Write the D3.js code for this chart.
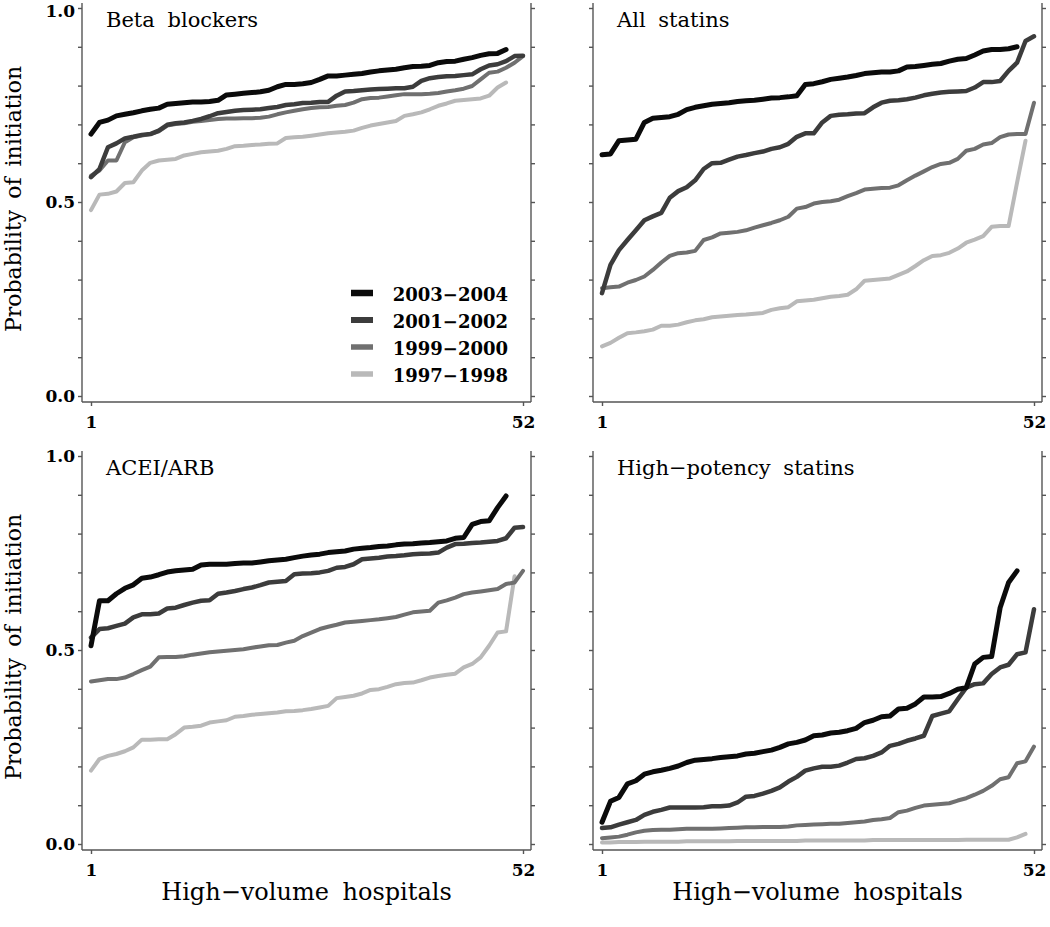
<!DOCTYPE html>
<html><head><meta charset="utf-8">
<script src="https://cdn.jsdelivr.net/npm/d3@7"></script>
<style>body{margin:0;background:#fff} svg{display:block}</style>
</head><body><svg id="chart" width="1050" height="927"></svg>
<script>
// ---------- DATA ----------
const periods = ["2003−2004", "2001−2002", "1999−2000", "1997−1998"];
const panelTitles = ["Beta blockers", "All statins", "ACEI/ARB", "High−potency statins"];
const xTickValues = [1, 52];
const yTickValues = [0, 0.1, 0.2, 0.3, 0.4, 0.5, 0.6, 0.7, 0.8, 0.9, 1.0];
const yLabelValues = [0, 0.5, 1.0];
const yAxisTitle = "Probability of initiation";
const xAxisTitle = "High−volume hospitals";

// Beta blockers
const bb_0304 = [0.675,0.705,0.711,0.722,0.726,0.730,0.735,0.739,0.742,0.752,0.754,0.756,0.758,0.758,0.759,0.762,0.776,0.778,0.780,0.782,0.784,0.788,0.797,0.803,0.803,0.805,0.808,0.816,0.825,0.825,0.827,0.829,0.831,0.835,0.838,0.840,0.842,0.846,0.849,0.850,0.852,0.859,0.862,0.863,0.868,0.872,0.878,0.882,0.883,0.893];
const bb_0102 = [0.564,0.585,0.641,0.651,0.664,0.668,0.673,0.675,0.684,0.699,0.703,0.705,0.709,0.714,0.721,0.729,0.732,0.735,0.737,0.738,0.739,0.742,0.745,0.750,0.752,0.755,0.756,0.758,0.758,0.774,0.785,0.786,0.788,0.790,0.791,0.792,0.793,0.793,0.797,0.812,0.819,0.822,0.824,0.825,0.827,0.829,0.842,0.852,0.855,0.863,0.876,0.877];
const bb_9900 = [0.568,0.581,0.607,0.607,0.654,0.667,0.671,0.675,0.682,0.697,0.701,0.703,0.707,0.709,0.711,0.714,0.715,0.715,0.716,0.716,0.717,0.720,0.726,0.731,0.735,0.739,0.742,0.744,0.745,0.748,0.750,0.756,0.765,0.768,0.769,0.772,0.775,0.778,0.778,0.778,0.779,0.781,0.785,0.788,0.792,0.799,0.816,0.833,0.836,0.846,0.859,0.876];
const bb_9798 = [0.479,0.519,0.521,0.527,0.549,0.551,0.581,0.601,0.607,0.609,0.611,0.620,0.624,0.628,0.630,0.632,0.637,0.644,0.645,0.647,0.648,0.650,0.651,0.665,0.667,0.668,0.671,0.674,0.677,0.679,0.681,0.684,0.691,0.697,0.701,0.705,0.709,0.722,0.726,0.731,0.739,0.748,0.754,0.761,0.763,0.765,0.767,0.774,0.795,0.808];

// All statins
const as_0304 = [0.622,0.624,0.658,0.660,0.662,0.705,0.716,0.718,0.720,0.726,0.738,0.744,0.748,0.752,0.754,0.756,0.759,0.761,0.762,0.765,0.768,0.769,0.771,0.774,0.803,0.805,0.810,0.816,0.819,0.822,0.826,0.831,0.833,0.835,0.835,0.838,0.848,0.849,0.852,0.855,0.857,0.863,0.868,0.870,0.879,0.889,0.893,0.893,0.895,0.900];
const as_0102 = [0.265,0.338,0.376,0.402,0.427,0.453,0.463,0.472,0.511,0.528,0.538,0.556,0.585,0.600,0.601,0.609,0.617,0.621,0.626,0.630,0.637,0.641,0.650,0.668,0.677,0.677,0.705,0.722,0.725,0.726,0.728,0.729,0.744,0.756,0.761,0.762,0.765,0.769,0.775,0.779,0.782,0.784,0.785,0.786,0.795,0.809,0.809,0.812,0.838,0.859,0.915,0.927];
const as_9900 = [0.278,0.280,0.282,0.292,0.299,0.308,0.325,0.344,0.361,0.368,0.370,0.374,0.402,0.409,0.419,0.421,0.423,0.427,0.434,0.440,0.446,0.453,0.462,0.483,0.487,0.496,0.500,0.502,0.506,0.515,0.523,0.532,0.534,0.536,0.537,0.543,0.556,0.568,0.579,0.590,0.598,0.601,0.611,0.632,0.637,0.648,0.652,0.667,0.674,0.675,0.675,0.756];
const as_9798 = [0.128,0.137,0.150,0.162,0.164,0.167,0.171,0.181,0.181,0.184,0.190,0.195,0.198,0.203,0.205,0.207,0.209,0.210,0.212,0.214,0.222,0.226,0.229,0.244,0.246,0.248,0.252,0.256,0.258,0.261,0.275,0.297,0.299,0.301,0.303,0.312,0.321,0.335,0.350,0.361,0.363,0.369,0.380,0.395,0.403,0.412,0.436,0.438,0.438,0.550,0.658];

// ACEI/ARB
const ac_0304 = [0.511,0.627,0.627,0.645,0.659,0.668,0.685,0.688,0.694,0.701,0.704,0.706,0.708,0.719,0.721,0.721,0.721,0.723,0.724,0.724,0.727,0.730,0.732,0.734,0.738,0.742,0.745,0.747,0.751,0.753,0.755,0.760,0.762,0.764,0.767,0.768,0.771,0.773,0.774,0.776,0.777,0.779,0.781,0.788,0.790,0.824,0.831,0.833,0.867,0.897];
const ac_0102 = [0.532,0.554,0.556,0.562,0.568,0.584,0.592,0.592,0.594,0.607,0.609,0.616,0.622,0.627,0.628,0.645,0.648,0.652,0.657,0.661,0.667,0.674,0.676,0.678,0.695,0.697,0.698,0.700,0.704,0.712,0.714,0.721,0.734,0.736,0.738,0.741,0.742,0.744,0.747,0.748,0.749,0.751,0.764,0.773,0.774,0.776,0.777,0.779,0.781,0.788,0.815,0.817];
const ac_9900 = [0.419,0.422,0.425,0.425,0.429,0.438,0.448,0.457,0.481,0.482,0.482,0.484,0.488,0.491,0.494,0.496,0.498,0.500,0.502,0.506,0.509,0.512,0.513,0.519,0.524,0.536,0.545,0.554,0.560,0.565,0.571,0.573,0.575,0.577,0.579,0.582,0.585,0.591,0.597,0.599,0.601,0.622,0.628,0.635,0.644,0.648,0.651,0.654,0.657,0.670,0.674,0.704];
const ac_9798 = [0.189,0.219,0.227,0.232,0.239,0.249,0.269,0.269,0.270,0.270,0.283,0.300,0.302,0.305,0.313,0.316,0.319,0.328,0.330,0.333,0.335,0.337,0.339,0.342,0.343,0.345,0.348,0.352,0.356,0.376,0.379,0.382,0.388,0.397,0.399,0.405,0.412,0.415,0.416,0.422,0.429,0.433,0.436,0.439,0.455,0.464,0.481,0.511,0.545,0.548,0.690];

// High-potency statins
const hp_0304 = [0.056,0.110,0.120,0.155,0.163,0.180,0.186,0.190,0.195,0.201,0.210,0.216,0.218,0.220,0.223,0.225,0.227,0.232,0.234,0.238,0.242,0.249,0.258,0.262,0.268,0.279,0.281,0.286,0.288,0.292,0.298,0.313,0.319,0.328,0.330,0.348,0.350,0.361,0.379,0.379,0.380,0.388,0.399,0.403,0.464,0.481,0.483,0.609,0.674,0.704];
const hp_0102 = [0.041,0.043,0.050,0.056,0.062,0.075,0.083,0.088,0.094,0.094,0.094,0.094,0.095,0.097,0.097,0.099,0.107,0.122,0.124,0.130,0.137,0.146,0.161,0.173,0.189,0.195,0.199,0.199,0.202,0.210,0.219,0.221,0.227,0.236,0.253,0.258,0.266,0.272,0.279,0.330,0.336,0.342,0.373,0.403,0.412,0.414,0.438,0.455,0.462,0.489,0.494,0.605];
const hp_9900 = [0.015,0.017,0.019,0.024,0.030,0.034,0.036,0.037,0.037,0.038,0.039,0.039,0.039,0.039,0.040,0.041,0.042,0.043,0.043,0.044,0.044,0.044,0.045,0.048,0.049,0.050,0.051,0.052,0.052,0.054,0.056,0.058,0.062,0.064,0.067,0.082,0.086,0.093,0.099,0.101,0.103,0.105,0.112,0.118,0.127,0.137,0.150,0.167,0.172,0.208,0.213,0.251];
const hp_9798 = [0.004,0.004,0.005,0.005,0.005,0.006,0.006,0.006,0.006,0.006,0.007,0.007,0.007,0.007,0.007,0.007,0.008,0.008,0.008,0.008,0.008,0.008,0.008,0.008,0.009,0.009,0.009,0.009,0.009,0.009,0.009,0.009,0.010,0.010,0.010,0.010,0.010,0.010,0.010,0.010,0.010,0.010,0.010,0.011,0.011,0.011,0.011,0.011,0.011,0.017,0.026];

// ---------- STYLE / LAYOUT ----------
const lineColors = ["#0b0b0b", "#3c3c3c", "#707070", "#b9b9b9"];
const lineWidths = [5, 4.5, 4, 4];
const serif = "'DejaVu Serif', 'Liberation Serif', serif";
const axisColor = "#555";

const panelData = [
  [bb_0304, bb_0102, bb_9900, bb_9798],
  [as_0304, as_0102, as_9900, as_9798],
  [ac_0304, ac_0102, ac_9900, ac_9798],
  [hp_0304, hp_0102, hp_9900, hp_9798]
];
const panelPos = [
  {left: 82, top: 8, col: 0, row: 0},
  {left: 593, top: 8, col: 1, row: 0},
  {left: 82, top: 456, col: 0, row: 1},
  {left: 593, top: 456, col: 1, row: 1}
];
const W = 449, H = 388;

const svg = d3.select("#chart");

panelPos.forEach((p, pi) => {
  const g = svg.append("g").attr("transform", `translate(${p.left},${p.top})`);
  const x = d3.scaleLinear().domain([1, 52]).range([9, W - 8]);
  const y = d3.scaleLinear().domain([0, 1]).range([H, 0]);
  const bottomY = H + 6;

  // frame lines
  g.append("line").attr("x1", 0).attr("x2", 0).attr("y1", -5).attr("y2", bottomY)
    .attr("stroke", axisColor).attr("stroke-width", 1.4);
  g.append("line").attr("x1", W).attr("x2", W).attr("y1", -5).attr("y2", bottomY)
    .attr("stroke", axisColor).attr("stroke-width", 1.4);
  g.append("line").attr("x1", 0).attr("x2", W).attr("y1", bottomY).attr("y2", bottomY)
    .attr("stroke", axisColor).attr("stroke-width", 1.4);

  // left axis
  const yl = g.append("g").call(
    d3.axisLeft(y).tickValues(yTickValues).tickSize(4).tickPadding(3)
      .tickFormat(d => (p.col === 0 && yLabelValues.some(v => Math.abs(v - d) < 1e-9)) ? d3.format(".1f")(d) : "")
  );
  // right axis
  const yr = g.append("g").attr("transform", `translate(${W},0)`).call(
    d3.axisRight(y).tickValues(yTickValues).tickSize(4).tickFormat("")
  );
  // bottom axis
  const xb = g.append("g").attr("transform", `translate(0,${bottomY})`).call(
    d3.axisBottom(x).tickValues(xTickValues).tickSize(4).tickPadding(10).tickFormat(d3.format("d"))
  );
  [yl, yr, xb].forEach(a => {
    a.select(".domain").remove();
    a.selectAll(".tick line").attr("stroke", axisColor).attr("stroke-width", 1.4);
    a.selectAll(".tick text").attr("fill", "#000").style("font-family", serif)
      .style("font-size", "17px").style("font-weight", "bold");
  });
  // keep the topmost label of the upper panels inside the picture
  if (p.row === 0) {
    yl.selectAll(".tick text").filter(d => d === 1).attr("dy", "0.47em");
  }

  // lines (light first so black is on top)
  const line = d3.line().x((d, i) => x(i + 1)).y(d => y(d)).curve(d3.curveLinear);
  for (let s = 3; s >= 0; s--) {
    g.append("path").datum(panelData[pi][s])
      .attr("d", line).attr("fill", "none")
      .attr("stroke", lineColors[s]).attr("stroke-width", lineWidths[s])
      .attr("stroke-linejoin", "round").attr("stroke-linecap", "round");
  }

  // panel title
  g.append("text").attr("x", 24).attr("y", 19).text(panelTitles[pi])
    .style("font-family", serif).style("font-size", "21px").style("word-spacing", "6px").attr("fill", "#000");

  // y-axis title
  if (p.col === 0) {
    svg.append("text")
      .attr("transform", `translate(21,${p.top + 191}) rotate(-90)`)
      .attr("text-anchor", "middle").text(yAxisTitle)
      .style("font-family", serif).style("font-size", "22px").style("word-spacing", "4px").attr("fill", "#000");
  }
  // x-axis title
  if (p.row === 1) {
    svg.append("text").attr("x", p.left + W / 2).attr("y", 900)
      .attr("text-anchor", "middle").text(xAxisTitle)
      .style("font-family", serif).style("font-size", "24px").style("word-spacing", "6px").attr("fill", "#000");
  }

  // legend in first panel
  if (pi === 0) {
    const lg = svg.append("g");
    periods.forEach((lab, k) => {
      const cy = 293 + k * 27;
      lg.append("line").attr("x1", 351).attr("x2", 373).attr("y1", cy).attr("y2", cy)
        .attr("stroke", lineColors[k]).attr("stroke-width", lineWidths[k] + 1.5);
      lg.append("text").attr("x", 508).attr("y", cy + 8).attr("text-anchor", "end").text(lab)
        .style("font-family", serif).style("font-size", "18px").style("font-weight", "bold").attr("fill", "#000");
    });
  }
});
</script>
</body></html>
